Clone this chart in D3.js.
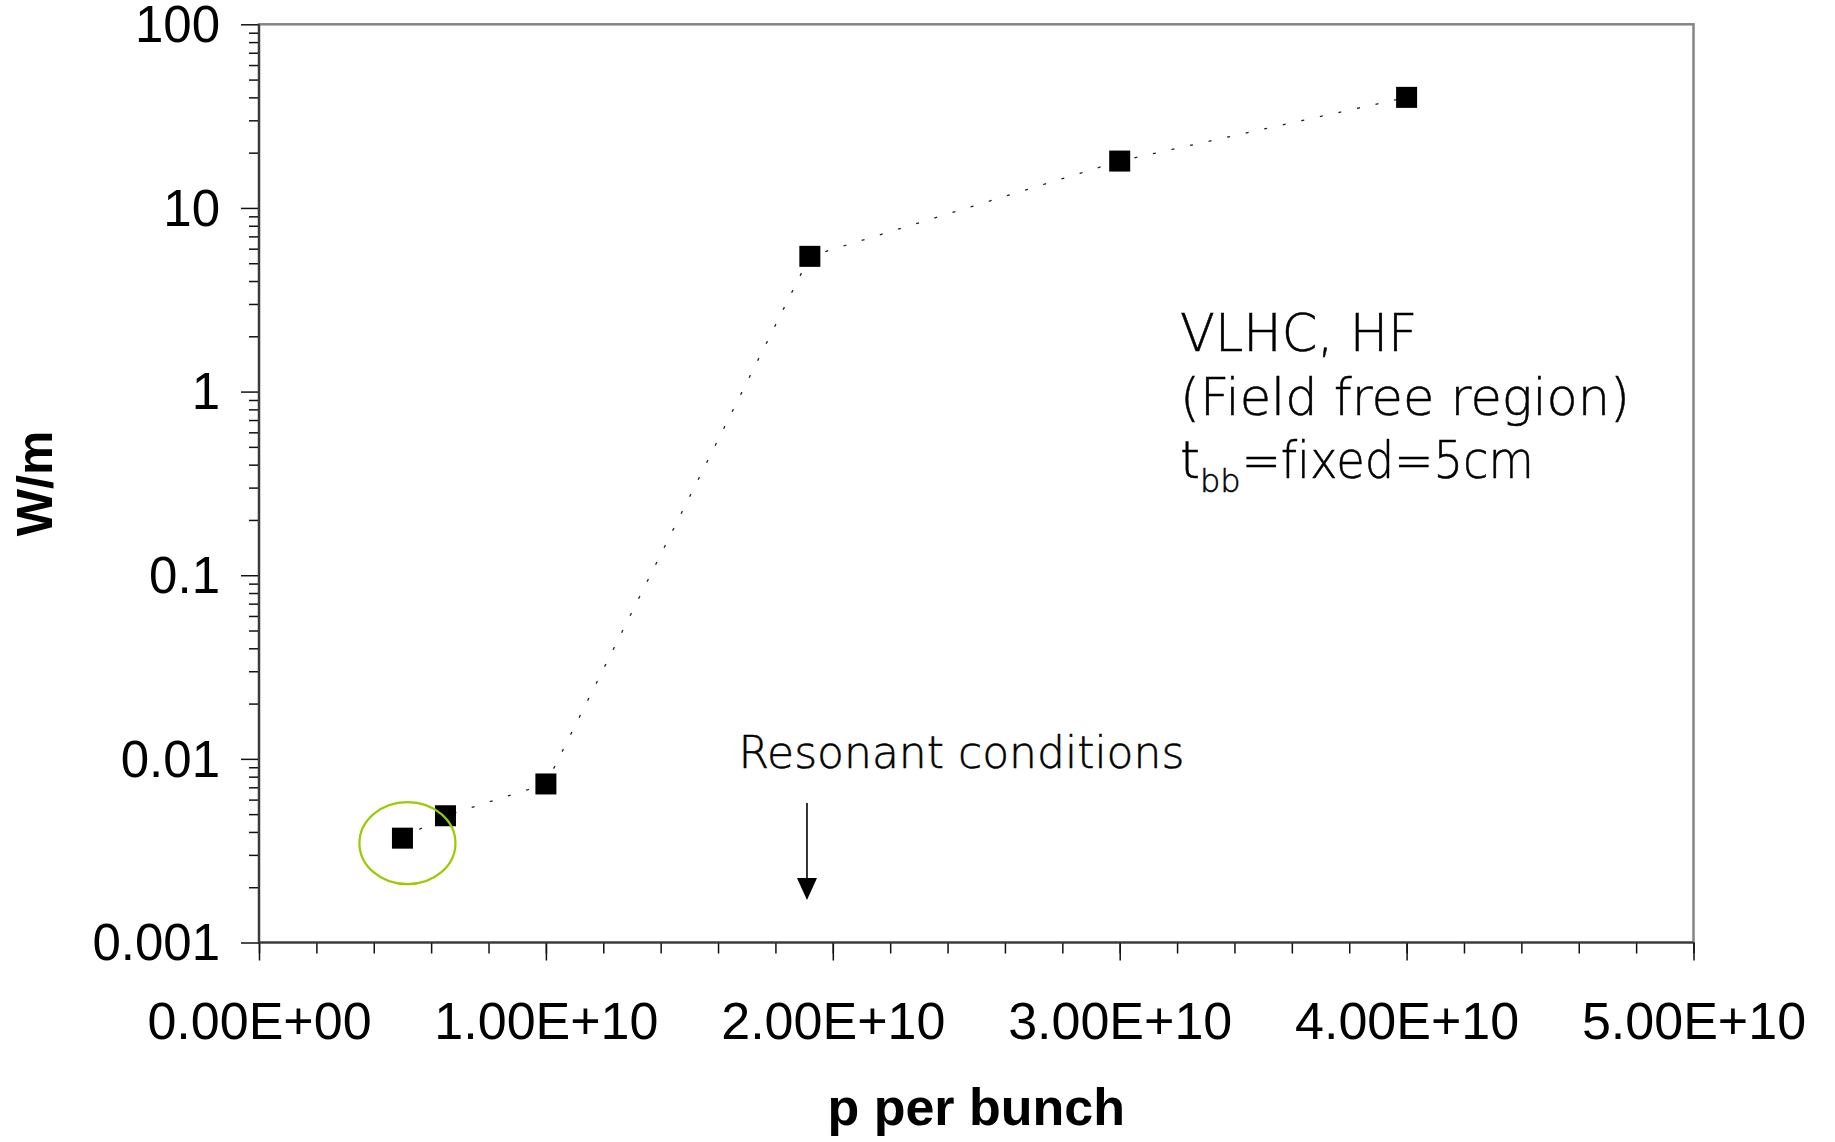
<!DOCTYPE html>
<html>
<head>
<meta charset="utf-8">
<script src="https://cdn.jsdelivr.net/npm/d3@7"></script>
<style>
  html, body { margin: 0; padding: 0; background: #ffffff; }
  svg { display: block; }
  text { font-variant-ligatures: none; }
</style>
</head>
<body>
<svg id="chart" width="1835" height="1142"></svg>
<script>
// Heat load per metre vs. protons per bunch (log scale)
const pPerBunch = [5.0e9, 6.5e9, 1.0e10, 1.92e10, 3.0e10, 4.0e10];
const wattsPerMetre = [0.0037, 0.0049, 0.0073, 5.45, 18, 40];

const xTickValues = [0, 1e10, 2e10, 3e10, 4e10, 5e10];
const xTickLabels = ["0.00E+00", "1.00E+10", "2.00E+10", "3.00E+10", "4.00E+10", "5.00E+10"];
const yTickValues = [0.001, 0.01, 0.1, 1, 10, 100];
const yTickLabels = ["0.001", "0.01", "0.1", "1", "10", "100"];

const infoLines = ["VLHC, HF", "(Field free region)"];
const resonantP = 1.91e10;

const svg = d3.select("#chart");
const plotLeft = 259, plotRight = 1693.5, plotTop = 24.3, plotBottom = 942.5;

const x = d3.scaleLinear().domain([0, 5e10]).range([plotLeft, plotRight]);
const y = d3.scaleLog().domain([0.001, 100]).range([plotBottom, plotTop]);

const tickFont = "'Liberation Sans', Arial, sans-serif";
const noteFont = "'DejaVu Sans', sans-serif";

// plot frame
svg.append("rect")
  .attr("x", plotLeft).attr("y", plotTop)
  .attr("width", plotRight - plotLeft).attr("height", plotBottom - plotTop)
  .attr("fill", "#ffffff")
  .attr("stroke", "#858585").attr("stroke-width", 2.5);

// minor ticks
const xMinor = d3.range(0, 5e10 + 1, 2e9);
const yMinor = [];
for (let e = -3; e < 2; e++) for (let m = 2; m <= 9; m++) yMinor.push(m * Math.pow(10, e));

const gxMinor = svg.append("g").attr("transform", `translate(0,${plotBottom})`)
  .call(d3.axisBottom(x).tickValues(xMinor).tickSize(11).tickFormat(""));
const gyMinor = svg.append("g").attr("transform", `translate(${plotLeft},0)`)
  .call(d3.axisLeft(y).tickValues(yMinor).tickSize(10).tickFormat(""));

// major ticks + labels
const gx = svg.append("g").attr("transform", `translate(0,${plotBottom})`)
  .call(d3.axisBottom(x).tickValues(xTickValues).tickSize(18)
    .tickFormat((d, i) => xTickLabels[i]));
const gy = svg.append("g").attr("transform", `translate(${plotLeft},0)`)
  .call(d3.axisLeft(y).tickValues(yTickValues).tickSize(18)
    .tickFormat((d, i) => yTickLabels[i]));

[gxMinor, gyMinor, gx, gy].forEach(g => {
  g.select(".domain").remove();
  g.selectAll(".tick line").attr("stroke", "#111").attr("stroke-width", 1.5);
});

gx.selectAll(".tick text")
  .attr("font-family", tickFont).attr("font-size", 52).attr("fill", "#000")
  .attr("y", 1039 - plotBottom).attr("dy", null);

gy.selectAll(".tick text")
  .attr("font-family", tickFont).attr("font-size", 51).attr("fill", "#000")
  .attr("x", -39).attr("dy", "0.34em");

// axis lines
svg.append("line").attr("x1", plotLeft).attr("x2", plotLeft).attr("y1", plotTop).attr("y2", plotBottom)
  .attr("stroke", "#3a3a3a").attr("stroke-width", 2.2);
svg.append("line").attr("x1", plotLeft).attr("x2", plotRight).attr("y1", plotBottom).attr("y2", plotBottom)
  .attr("stroke", "#3a3a3a").attr("stroke-width", 2.2);

// axis titles
svg.append("text")
  .attr("transform", `translate(52,${(plotTop + plotBottom) / 2}) rotate(-90)`)
  .attr("text-anchor", "middle")
  .attr("font-family", tickFont).attr("font-weight", "bold").attr("font-size", 50)
  .text("W/m");
svg.append("text")
  .attr("x", (plotLeft + plotRight) / 2).attr("y", 1125)
  .attr("text-anchor", "middle")
  .attr("font-family", tickFont).attr("font-weight", "bold").attr("font-size", 52)
  .text("p per bunch");

// dotted connecting line
const pts = pPerBunch.map((p, i) => [x(p), y(wattsPerMetre[i])]);
svg.append("path")
  .attr("d", d3.line()(pts))
  .attr("fill", "none")
  .attr("stroke", "#222")
  .attr("stroke-width", 1.3)
  .attr("stroke-dasharray", "3,16");

// square markers
const ms = 21;
svg.append("g").selectAll("rect")
  .data(pPerBunch.map((p, i) => ({ p, w: wattsPerMetre[i] })))
  .join("rect")
  .attr("x", d => x(d.p) - ms / 2)
  .attr("y", d => y(d.w) - ms / 2)
  .attr("width", ms).attr("height", ms)
  .attr("fill", "#000");

// highlight ring around the lowest-intensity point
svg.append("ellipse")
  .attr("cx", x(pPerBunch[0]) + 5)
  .attr("cy", y(wattsPerMetre[0]) + 5)
  .attr("rx", 48).attr("ry", 41)
  .attr("fill", "none")
  .attr("stroke", "#99cc00").attr("stroke-width", 2.2);

// resonance annotation
const ax = x(resonantP);
svg.append("line")
  .attr("x1", ax).attr("x2", ax).attr("y1", 803).attr("y2", 880)
  .attr("stroke", "#000").attr("stroke-width", 1.6);
svg.append("path")
  .attr("d", `M${ax - 10},878 L${ax + 10},878 L${ax},900 Z`)
  .attr("fill", "#000");
svg.append("text")
  .attr("x", 738.5).attr("y", 767.5)
  .attr("font-family", noteFont).attr("font-weight", 200).attr("font-size", 44)
  .attr("fill", "#000").attr("stroke", "#000").attr("stroke-width", 0.5)
  .text("Resonant conditions");

// parameter box text
const info = svg.append("g")
  .attr("font-family", noteFont).attr("font-weight", 200).attr("font-size", 51)
  .attr("fill", "#000").attr("stroke", "#000").attr("stroke-width", 0.5);
infoLines.forEach((s, i) => {
  info.append("text").attr("x", 1180).attr("y", 351 + i * 64).text(s);
});
const t3 = info.append("text").attr("x", 1180).attr("y", 478);
t3.append("tspan").text("t");
t3.append("tspan").attr("font-size", 32).attr("dy", 14).text("bb");
const prefixW = t3.node().getComputedTextLength();
info.append("text")
  .attr("x", 1180 + prefixW + 1).attr("y", 478)
  .attr("textLength", 1534 - (1180 + prefixW + 1))
  .attr("lengthAdjust", "spacingAndGlyphs")
  .text("=fixed=5cm");
</script>
</body>
</html>
